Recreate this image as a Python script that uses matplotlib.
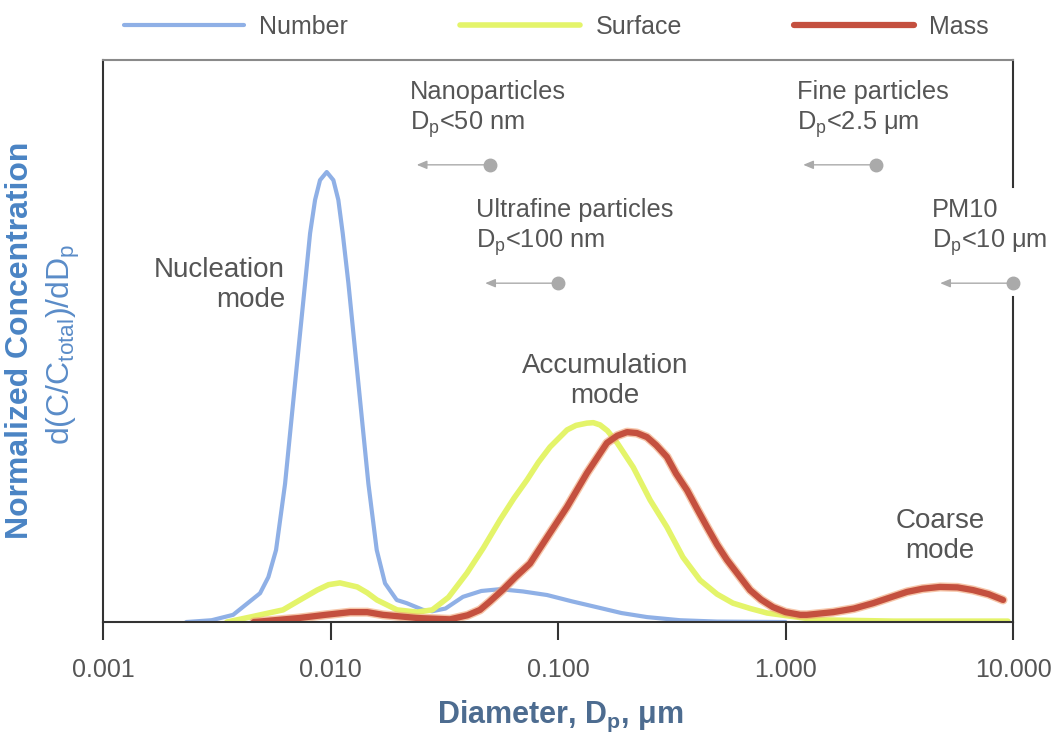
import numpy as np
import matplotlib.pyplot as plt

plt.rcParams['font.family'] = ['Liberation Sans', 'DejaVu Sans']

# size distributions (y normalised to the nucleation peak)
number_d = [0.00232, 0.0030, 0.00373, 0.0049, 0.00533, 0.00576, 0.00631, 0.00675,
            0.00722, 0.00773, 0.00813, 0.00855, 0.00899, 0.00962, 0.01029, 0.01082,
            0.01131, 0.01198, 0.01282, 0.01371, 0.01467, 0.01596, 0.01736, 0.01954,
            0.0216, 0.0255, 0.028, 0.032, 0.0382, 0.046, 0.0556, 0.07, 0.0895, 0.115,
            0.148, 0.19, 0.246, 0.344, 0.5, 1.0]
number_c = [0.0, 0.004, 0.016, 0.064, 0.1, 0.16, 0.307, 0.456,
            0.604, 0.753, 0.864, 0.938, 0.982, 1.0, 0.982, 0.938,
            0.864, 0.753, 0.604, 0.456, 0.307, 0.16, 0.086, 0.049,
            0.042, 0.027, 0.024, 0.030, 0.056, 0.069, 0.073, 0.068, 0.06, 0.046,
            0.033, 0.02, 0.011, 0.004, 0.001, 0.0]

surface_d = [0.0035, 0.00443, 0.00618, 0.00734, 0.00873, 0.0098, 0.011, 0.0131,
             0.0145, 0.016, 0.0196, 0.024, 0.028, 0.033, 0.0398, 0.047, 0.0556,
             0.064, 0.0731, 0.082, 0.0922, 0.1096, 0.12, 0.134, 0.143, 0.153, 0.165,
             0.182, 0.214, 0.254, 0.301, 0.354, 0.421, 0.5, 0.587, 0.7, 0.83, 1.37,
             3.0, 9.5]
surface_c = [0.0, 0.011, 0.027, 0.049, 0.071, 0.083, 0.087, 0.078,
             0.065, 0.049, 0.027, 0.022, 0.027, 0.055, 0.109, 0.165, 0.227,
             0.275, 0.316, 0.355, 0.389, 0.427, 0.437, 0.442, 0.443, 0.438, 0.425,
             0.398, 0.344, 0.271, 0.211, 0.144, 0.093, 0.062, 0.042, 0.03, 0.02, 0.005,
             0.002, 0.002]

mass_d = [0.0046, 0.0073, 0.0095, 0.0122, 0.0145, 0.017, 0.024, 0.0335, 0.04,
          0.0454, 0.05, 0.057, 0.065, 0.0753, 0.09, 0.1096, 0.134, 0.164, 0.182,
          0.201, 0.222, 0.246, 0.27, 0.301, 0.33, 0.369, 0.41, 0.452, 0.5, 0.553,
          0.631, 0.698, 0.78, 0.881, 1.0, 1.16, 1.24, 1.62, 2.0, 2.43, 2.9, 3.42,
          4.0, 4.78, 5.7, 6.67, 7.8, 9.04]
mass_c = [0.0, 0.009, 0.016, 0.022, 0.022, 0.016, 0.009, 0.006, 0.015,
          0.027, 0.045, 0.071, 0.1, 0.13, 0.19, 0.256, 0.331, 0.398, 0.414,
          0.422, 0.42, 0.411, 0.393, 0.367, 0.33, 0.293, 0.25, 0.211, 0.172, 0.138,
          0.1, 0.071, 0.05, 0.033, 0.022, 0.016, 0.016, 0.022, 0.03, 0.042, 0.055, 0.067,
          0.074, 0.078, 0.077, 0.071, 0.062, 0.049]

# size class cut-offs (um) and their labels
cutoffs = [0.05, 2.5, 0.1, 10.0]
cutoff_labels = ['Nanoparticles\nD$_\\mathregular{p}$<50 nm',
                 'Fine particles\nD$_\\mathregular{p}$<2.5 \u03bcm',
                 'Ultrafine particles\nD$_\\mathregular{p}$<100 nm',
                 'PM10\nD$_\\mathregular{p}$<10 \u03bcm']

xticks = [0.001, 0.01, 0.1, 1, 10]
xtick_labels = ['0.001', '0.010', '0.100', '1.000', '10.000']

fig = plt.figure(figsize=(10.58, 7.35), dpi=100)
ax = fig.add_axes([0.0974, 0.1537, 0.8601, 0.7647])

ax.plot(number_d, number_c, color='#8fb0e6', lw=3, label='Number',
        solid_capstyle='round', solid_joinstyle='round')
ax.plot(surface_d, surface_c, color='#e4f46a', lw=4, label='Surface',
        solid_capstyle='round', solid_joinstyle='round')
# orange halo under the mass line
ax.plot(mass_d, mass_c, color='#f0a070', lw=6.5, alpha=0.6,
        solid_capstyle='round', solid_joinstyle='round')
ax.plot(mass_d, mass_c, color='#c4503f', lw=4.5, label='Mass',
        solid_capstyle='round', solid_joinstyle='round')

ax.set_xscale('log')
ax.set_xlim(0.001, 10)
ax.set_ylim(0, 1.249)
ax.set_xticks(xticks)
ax.set_xticklabels(xtick_labels)
ax.minorticks_off()
ax.set_yticks([])
ax.tick_params(axis='x', direction='out', length=13, width=1.5, pad=13,
               labelsize=18, labelcolor='#555555', color='#333333')

for s in ['left', 'bottom']:
    ax.spines[s].set_color('#333333')
    ax.spines[s].set_linewidth(1.5)
ax.spines['top'].set_color('#8a8a8a')
ax.spines['top'].set_linewidth(1.5)
ax.spines['right'].set_visible(False)
# right border is broken where the PM10 label sits
ax.plot([1, 1], [0, 0.578], transform=ax.transAxes, color='#333333', lw=1.5, clip_on=False)
ax.plot([1, 1], [0.774, 1], transform=ax.transAxes, color='#333333', lw=1.5, clip_on=False)

# cut-off arrows
label_pos = [(0.0223, 1.138), (1.124, 1.138), (0.0436, 0.876), (4.41, 0.876)]
arrow_y = [1.016, 1.016, 0.753, 0.753]
for c, lab, (lx, ly), yy in zip(cutoffs, cutoff_labels, label_pos, arrow_y):
    ax.annotate('', xy=(c / 2.15, yy), xytext=(c, yy),
                arrowprops=dict(arrowstyle='-|>,head_length=0.6,head_width=0.25',
                                color='#aaaaaa', lw=1))
    ax.plot(c, yy, 'o', color='#aaaaaa', ms=9, clip_on=False, zorder=5)
    ax.text(lx, ly, lab, ha='left', va='center', fontsize=18.3, color='#555555',
            linespacing=1.25)

ax.text(0.00631, 0.749, 'Nucleation\nmode', ha='right', va='center', multialignment='right',
        fontsize=20, color='#555555', linespacing=1.17)
ax.text(0.161, 0.536, 'Accumulation\nmode', ha='center', va='center',
        fontsize=20, color='#555555', linespacing=1.17)
ax.text(4.78, 0.191, 'Coarse\nmode', ha='center', va='center',
        fontsize=20, color='#555555', linespacing=1.17)

fig.text(0.019, 0.537, 'Normalized Concentration', rotation=90, ha='center', va='center',
         fontsize=23, fontweight='bold', color='#4a84c4')
fig.text(0.06, 0.531, 'd(C/C$_\\mathregular{total}$)/dD$_\\mathregular{p}$', rotation=90,
         ha='center', va='center', fontsize=23, color='#5a8cc8')
fig.text(0.53, 0.025, 'Diameter, D$_\\mathregular{p}$, \u03bcm', ha='center', va='center',
         fontsize=22, fontweight='bold', color='#4d6c90')

fig.legend(loc='center', bbox_to_anchor=(0.526, 0.963), ncol=3, frameon=False,
           fontsize=18, handlelength=4.8, handletextpad=0.6, columnspacing=4.5,
           labelcolor='#555555')

fig.savefig('out.png', dpi=100)
